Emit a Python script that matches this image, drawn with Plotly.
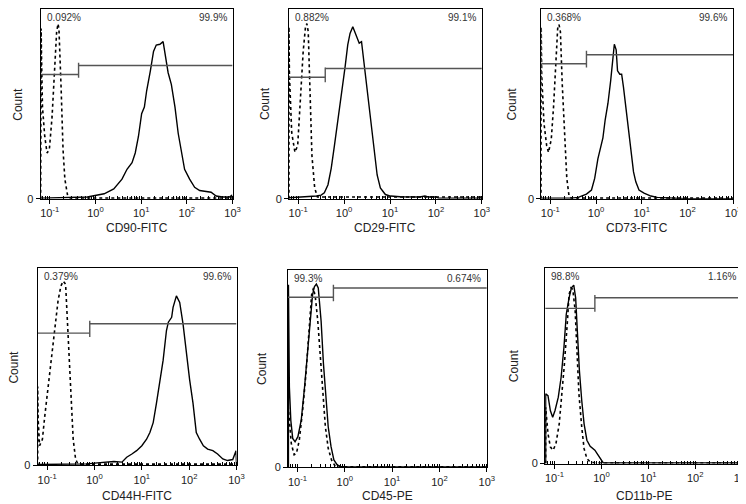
import plotly.graph_objects as go
import numpy as np

# ---------------- data (x in log10 fluorescence units, y = count, % of frame height) ----------
markers = ["CD90-FITC", "CD29-FITC", "CD73-FITC", "CD44H-FITC", "CD45-PE", "CD11b-PE"]
left_pct = ["0.092%", "0.882%", "0.368%", "0.379%", "99.3%", "98.8%"]
right_pct = ["99.9%", "99.1%", "99.6%", "99.6%", "0.674%", "1.16%"]

# gate: divider position (log10), left / right bar heights, divider tick extent
gate_div = [-0.37, -0.41, -0.21, -0.10, -0.24, -0.14]
gate_left_y = [65.5, 64.0, 71.1, 67.0, 86.1, 79.3]
gate_right_y = [70.2, 68.6, 75.9, 71.7, 90.8, 84.7]
gate_tick_lo = [63.8, 61.4, 69.1, 65.0, 84.1, 77.6]
gate_tick_hi = [71.6, 69.1, 78.0, 73.3, 92.5, 86.1]

# isotype control (dotted) curves
ctrl1_x = [-1.2, -1.19, -1.18, -1.16, -1.11, -1.06, -1.01, -0.95, -0.90, -0.85, -0.82, -0.80, -0.75, -0.71, -0.67, -0.61, -0.55, 3.0]
ctrl1_y = [0, 89.7, 74.1, 48.3, 32.8, 24.1, 25.9, 43.1, 69.0, 87.9, 92.2, 89.7, 56.9, 25.9, 10.3, 1.7, 0.3, 0.3]
ctrl2_x = [-1.2, -1.2, -1.19, -1.14, -1.07, -1.01, -0.96, -0.89, -0.84, -0.81, -0.78, -0.74, -0.70, -0.64, -0.58, 3.0]
ctrl2_y = [0, 90.6, 65.7, 34.8, 24.5, 28.0, 48.5, 77.7, 90.6, 92.3, 88.0, 52.0, 22.8, 5.7, 0.9, 0.9]
ctrl3_x = [-1.2, -1.2, -1.19, -1.14, -1.08, -1.04, -0.98, -0.93, -0.88, -0.84, -0.81, -0.78, -0.74, -0.69, -0.64, -0.59, -0.54, 3.0]
ctrl3_y = [0, 90.5, 65.6, 39.9, 27.8, 24.4, 31.3, 48.5, 75.9, 89.7, 91.8, 88.0, 60.5, 31.3, 10.7, 1.2, 0.3, 0.3]
ctrl4_x = [-1.2, -1.2, -1.19, -1.16, -1.10, -1.05, -0.98, -0.91, -0.84, -0.77, -0.71, -0.66, -0.61, -0.57, -0.53, -0.49, -0.45, -0.40, -0.35, 3.0]
ctrl4_y = [0, 40.0, 23.3, 10.0, 13.3, 25.0, 40.0, 56.7, 70.0, 83.3, 90.8, 93.3, 91.7, 73.3, 51.7, 31.7, 13.3, 3.3, 0.7, 0.7]
ctrl5_x = [-1.2, -1.2, -1.17, -1.13, -1.07, -1.02, -0.96, -0.89, -0.82, -0.75, -0.70, -0.66, -0.62, -0.57, -0.52, -0.46, -0.41, -0.35, -0.28, -0.21, -0.12, 3.0]
ctrl5_y = [0, 32.3, 23.9, 12.2, 6.4, 7.2, 13.9, 28.9, 47.3, 69.1, 87.5, 90.8, 85.8, 74.1, 55.7, 37.3, 20.6, 9.7, 3.8, 1.0, 0.3, 0.3]
ctrl6_x = [-1.19, -1.19, -1.14, -1.09, -1.03, -0.97, -0.90, -0.85, -0.79, -0.73, -0.69, -0.65, -0.61, -0.56, -0.52, -0.48, -0.42, -0.37, -0.31, -0.24, -0.14, 3.0]
ctrl6_y = [0, 28.8, 15.3, 8.5, 6.8, 10.2, 20.3, 33.9, 50.8, 71.2, 86.4, 89.8, 89.0, 78.0, 57.6, 35.6, 18.6, 7.6, 2.5, 0.8, 0.3, 0.3]

# stained sample (solid) curves
samp1_x = [-1.2, -0.18, 0.19, 0.40, 0.58, 0.69, 0.80, 0.87, 0.94, 1.01, 1.07, 1.12, 1.20, 1.27, 1.33, 1.41, 1.48, 1.54, 1.59, 1.66, 1.74, 1.81, 1.88, 1.95, 2.06, 2.17, 2.28, 2.42, 2.53, 2.64, 2.78, 2.93, 2.98, 3.0]
samp1_y = [0.3, 0.9, 2.6, 5.2, 10.3, 15.5, 19.0, 24.1, 32.8, 44.8, 48.3, 56.9, 67.2, 77.6, 81.0, 81.4, 82.8, 74.1, 66.4, 60.3, 48.3, 34.5, 24.1, 15.5, 10.3, 6.0, 4.3, 3.8, 3.4, 1.4, 0.9, 0.9, 1.7, 0]
samp2_x = [-1.2, -0.78, -0.60, -0.50, -0.43, -0.35, -0.28, -0.21, -0.14, -0.08, -0.03, 0.02, 0.08, 0.13, 0.19, 0.23, 0.29, 0.33, 0.38, 0.42, 0.47, 0.52, 0.58, 0.65, 0.72, 0.79, 0.90, 1.01, 1.22, 1.65, 1.76, 1.83, 2.01, 2.05, 3.0]
samp2_y = [0.5, 0.9, 1.4, 1.9, 3.1, 7.4, 16.0, 28.0, 40.0, 52.0, 60.5, 69.1, 81.1, 87.1, 90.6, 88.0, 83.7, 82.0, 82.8, 74.3, 65.7, 53.7, 40.0, 24.5, 12.5, 5.7, 2.2, 1.4, 1.0, 0.9, 1.4, 0.9, 0.9, 0.3, 0.3]
samp3_x = [-1.2, -0.54, -0.39, -0.28, -0.21, -0.10, -0.03, 0.04, 0.10, 0.15, 0.20, 0.26, 0.32, 0.37, 0.40, 0.44, 0.47, 0.52, 0.56, 0.60, 0.65, 0.70, 0.76, 0.82, 0.87, 0.94, 1.05, 1.20, 1.34, 1.92, 1.95, 3.0]
samp3_y = [0.3, 0.3, 0.7, 1.7, 2.4, 4.6, 10.7, 21.0, 27.8, 32.1, 41.6, 50.2, 62.2, 75.9, 81.4, 78.5, 67.4, 65.6, 65.6, 58.8, 48.5, 38.1, 26.1, 14.1, 8.9, 4.6, 2.9, 1.4, 0.7, 0.3, 0, 0]
samp4_x = [-1.2, -0.57, -0.43, -0.15, 0.06, 0.20, 0.41, 0.58, 0.68, 0.79, 0.89, 1.00, 1.10, 1.17, 1.24, 1.31, 1.38, 1.45, 1.52, 1.56, 1.63, 1.66, 1.73, 1.80, 1.87, 1.94, 2.01, 2.08, 2.15, 2.22, 2.30, 2.39, 2.50, 2.60, 2.71, 2.81, 2.92, 2.99, 3.0]
samp4_y = [0.5, 0.7, 1.0, 0.8, 1.3, 1.7, 2.0, 1.7, 4.2, 5.8, 7.5, 10.0, 13.3, 16.7, 21.7, 31.7, 43.3, 53.3, 68.3, 72.5, 75.0, 80.0, 85.8, 82.5, 71.7, 56.7, 43.3, 31.7, 16.7, 13.3, 10.0, 8.3, 7.5, 5.8, 3.3, 2.5, 3.0, 7.5, 0]
samp5_x = [-1.19, -1.19, -1.17, -1.14, -1.10, -1.05, -0.99, -0.92, -0.85, -0.78, -0.73, -0.68, -0.64, -0.60, -0.56, -0.50, -0.45, -0.40, -0.35, -0.29, -0.23, -0.16, -0.09, 0.05, 3.0]
samp5_y = [0, 92.5, 40.6, 23.9, 14.7, 13.0, 15.6, 23.9, 40.6, 60.7, 77.4, 87.5, 91.6, 92.8, 90.8, 74.1, 52.3, 35.6, 20.6, 10.5, 3.8, 1.3, 0.5, 0.3, 0.3]
samp6_x = [-1.19, -1.19, -1.14, -1.09, -1.04, -0.99, -0.92, -0.86, -0.80, -0.75, -0.69, -0.64, -0.59, -0.55, -0.51, -0.47, -0.42, -0.37, -0.31, -0.24, -0.14, -0.07, -0.01, 0.04, 3.0]
samp6_y = [0, 35.6, 34.7, 27.1, 23.7, 27.1, 33.9, 44.1, 59.3, 76.3, 84.7, 89.8, 91.2, 84.7, 66.1, 47.5, 32.2, 20.3, 11.9, 8.8, 6.8, 4.2, 1.7, 0.3, 0.3]

ctrl_x = [ctrl1_x, ctrl2_x, ctrl3_x, ctrl4_x, ctrl5_x, ctrl6_x]
ctrl_y = [ctrl1_y, ctrl2_y, ctrl3_y, ctrl4_y, ctrl5_y, ctrl6_y]
samp_x = [samp1_x, samp2_x, samp3_x, samp4_x, samp5_x, samp6_x]
samp_y = [samp1_y, samp2_y, samp3_y, samp4_y, samp5_y, samp6_y]

x_log_range = [-1.2, 3.0]
tick_vals = [0.1, 1, 10, 100, 1000]
tick_text = ["10<sup>-1</sup>", "10<sup>0</sup>", "10<sup>1</sup>", "10<sup>2</sup>", "10<sup>3</sup>"]

# ---------------- layout geometry (pixels) ----------------
W, H = 746, 504
panels_px = [  # x0, x1, ytop, ybottom
    (33, 227, 1, 193),
    (284, 479, 1, 193),
    (539, 733, 1, 193),
    (30, 231, 263, 463),
    (283, 484, 265, 465),
    (543, 742, 263, 461),
]
xtitle_y_px = [223, 223, 223, 494, 494, 494]
count_x_px = [10, 260, 509, 6, 256, 511]

FONT = "Liberation Sans, Arial, sans-serif"
fig = go.Figure()
layout = dict(
    width=W, height=H, margin=dict(l=0, r=0, t=0, b=0),
    paper_bgcolor="white", plot_bgcolor="white",
    showlegend=False, font=dict(family=FONT, color="#222", size=11),
    annotations=[], shapes=[],
)

for i in range(6):
    n = "" if i == 0 else str(i + 1)
    xa, ya = "x" + n, "y" + n
    x0, x1, yt, yb = panels_px[i]
    layout["xaxis" + n] = dict(
        type="log", range=x_log_range, domain=[x0 / W, x1 / W], anchor=ya,
        showline=True, linecolor="black", linewidth=1, mirror=True,
        showgrid=False, zeroline=False,
        tickmode="array", tickvals=tick_vals, ticktext=tick_text,
        ticks="outside", ticklen=4, tickcolor="black", tickwidth=1,
        tickfont=dict(size=11, color="#222", family=FONT),
        minor=dict(ticks="inside", ticklen=3, tickcolor="black", dtick="D1", showgrid=False),
        fixedrange=True,
    )
    layout["yaxis" + n] = dict(
        range=[0, 100], domain=[1 - yb / H, 1 - yt / H], anchor=xa,
        showline=True, linecolor="black", linewidth=1, mirror=True,
        showgrid=False, zeroline=False,
        tickmode="array", tickvals=[0], ticktext=["0"],
        ticks="outside", ticklen=4, tickcolor="black",
        tickfont=dict(size=11, color="#222", family=FONT),
        fixedrange=True,
    )

    # control (dotted)
    fig.add_trace(go.Scatter(
        x=10 ** np.array(ctrl_x[i]), y=ctrl_y[i], xaxis=xa, yaxis=ya, mode="lines",
        line=dict(color="black", width=1.6, dash="dot"), hoverinfo="skip"))
    # sample (solid)
    fig.add_trace(go.Scatter(
        x=10 ** np.array(samp_x[i]), y=samp_y[i], xaxis=xa, yaxis=ya, mode="lines",
        line=dict(color="black", width=1.4), hoverinfo="skip"))
    # gate
    lo, hi = 10 ** x_log_range[0], 10 ** x_log_range[1]
    d = 10 ** gate_div[i]
    fig.add_trace(go.Scatter(
        x=[lo, d, None, d, hi, None, d, d],
        y=[gate_left_y[i], gate_left_y[i], None, gate_right_y[i], gate_right_y[i], None,
           gate_tick_lo[i], gate_tick_hi[i]],
        xaxis=xa, yaxis=ya, mode="lines",
        line=dict(color="#555", width=1.4), hoverinfo="skip"))

    # percentages
    layout["annotations"].append(dict(
        text=left_pct[i], xref=xa + " domain", yref=ya + " domain", x=0, y=1,
        xanchor="left", yanchor="top", xshift=4, yshift=-1, showarrow=False,
        font=dict(size=10, color="#333", family=FONT)))
    layout["annotations"].append(dict(
        text=right_pct[i], xref=xa + " domain", yref=ya + " domain", x=1, y=1,
        xanchor="right", yanchor="top", xshift=-4, yshift=-1, showarrow=False,
        font=dict(size=10, color="#333", family=FONT)))
    # x title
    layout["annotations"].append(dict(
        text=markers[i], xref=xa + " domain", yref="paper", x=0.5, y=1 - xtitle_y_px[i] / H,
        xanchor="center", yanchor="middle", showarrow=False,
        font=dict(size=12, color="#222", family=FONT)))
    # y title
    layout["annotations"].append(dict(
        text="Count", xref="paper", yref=ya + " domain", x=count_x_px[i] / W, y=0.5,
        xanchor="center", yanchor="middle", textangle=-90, showarrow=False,
        font=dict(size=12, color="#222", family=FONT)))

fig.update_layout(**layout)
fig.write_html("out.html")
